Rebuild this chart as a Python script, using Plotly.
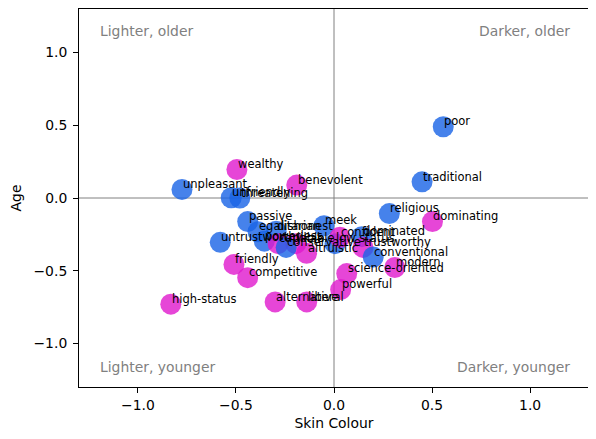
import plotly.graph_objects as go

# ---- data ----
words = ["poor", "traditional", "religious", "dominating", "wealthy", "benevolent",
         "unpleasant", "unfriendly", "threatening", "passive", "meek", "untrustworthy",
         "egalitarian", "dishonest", "powerless", "capable", "likable", "conservative",
         "altruistic", "low status", "confident", "dominated", "trustworthy",
         "conventional", "modern", "science-oriented", "powerful", "friendly",
         "competitive", "high-status", "alternative", "liberal"]
skin = [0.557, 0.449, 0.282, 0.502, -0.495, -0.190,
        -0.775, -0.524, -0.480, -0.440, -0.051, -0.580,
        -0.387, -0.295, -0.355, -0.285, -0.195, -0.244,
        -0.140, 0.005, 0.030, 0.142, 0.148,
        0.200, 0.310, 0.065, 0.034, -0.510,
        -0.440, -0.832, -0.300, -0.139]
age = [0.490, 0.111, -0.107, -0.162, 0.196, 0.089,
       0.059, 0.002, 0.000, -0.162, -0.191, -0.305,
       -0.232, -0.228, -0.297, -0.314, -0.314, -0.340,
       -0.380, -0.314, -0.270, -0.266, -0.340,
       -0.406, -0.478, -0.520, -0.630, -0.457,
       -0.548, -0.730, -0.715, -0.715]
group = ["B", "B", "B", "A", "A", "A",
         "B", "B", "B", "B", "B", "B",
         "B", "B", "B", "A", "A", "B",
         "A", "B", "A", "B", "A",
         "B", "A", "A", "A", "A",
         "A", "A", "A", "A"]
quadrant_text = ["Lighter, older", "Darker, older", "Lighter, younger", "Darker, younger"]
tick_vals = [-1.0, -0.5, 0.0, 0.5, 1.0]
tick_text = ["\u22121.0", "\u22120.5", "0.0", "0.5", "1.0"]

colour_map = {"A": "rgb(224,24,205)", "B": "rgb(24,99,230)"}
FONT = "DejaVu Sans"

fig = go.Figure()
fig.add_trace(go.Scatter(
    x=skin, y=age, mode="markers",
    marker=dict(size=21, color=[colour_map[g] for g in group], opacity=0.8,
                line=dict(width=0)),
    hoverinfo="skip", showlegend=False))

annotations = []
for w, xv, yv in zip(words, skin, age):
    annotations.append(dict(x=xv, y=yv, text=w, showarrow=False, xanchor="left",
                            yanchor="bottom", borderpad=0, yshift=-2.7,
                            font=dict(family=FONT, size=11.5, color="black")))

qx = [-1.2, 1.2, -1.2, 1.2]
qy = [1.2, 1.2, -1.2, -1.2]
qxa = ["left", "right", "left", "right"]
qya = ["top", "top", "bottom", "bottom"]
qshift = [2, 2, -4, -4]
for t, xv, yv, xa, ya, ys in zip(quadrant_text, qx, qy, qxa, qya, qshift):
    annotations.append(dict(x=xv, y=yv, text=t, showarrow=False, xanchor=xa,
                            yanchor=ya, borderpad=0, yshift=ys,
                            xshift=2 if xa == "right" else 0,
                            font=dict(family=FONT, size=13.9, color="gray")))

axis_common = dict(range=[-1.3, 1.3], showgrid=False, zeroline=False,
                   showline=True, linecolor="black", linewidth=1, mirror=True,
                   ticks="outside", ticklen=5, tickwidth=1, tickcolor="black",
                   tickvals=tick_vals, ticktext=tick_text,
                   tickfont=dict(family=FONT, size=13.9, color="black"))

# the page body adds an 8px offset, so the figure is sized to fit the window
fig.update_layout(
    width=588, height=431,
    margin=dict(l=71, r=7, t=1, b=52),
    paper_bgcolor="white", plot_bgcolor="white",
    font=dict(family=FONT, size=13.9, color="black"),
    xaxis=dict(**axis_common, title=dict(text="Skin Colour", standoff=6,
                                         font=dict(family=FONT, size=13.9))),
    yaxis=dict(**axis_common, ticklabelstandoff=3,
               title=dict(text="Age", standoff=8,
                          font=dict(family=FONT, size=13.9))),
    annotations=annotations,
    shapes=[
        dict(type="line", xref="x", yref="paper", x0=0, x1=0, y0=0, y1=1,
             line=dict(color="gray", width=1), layer="below"),
        dict(type="line", xref="paper", yref="y", x0=0, x1=1, y0=0, y1=0,
             line=dict(color="gray", width=1), layer="below"),
    ],
)

fig.write_html("out.html")
